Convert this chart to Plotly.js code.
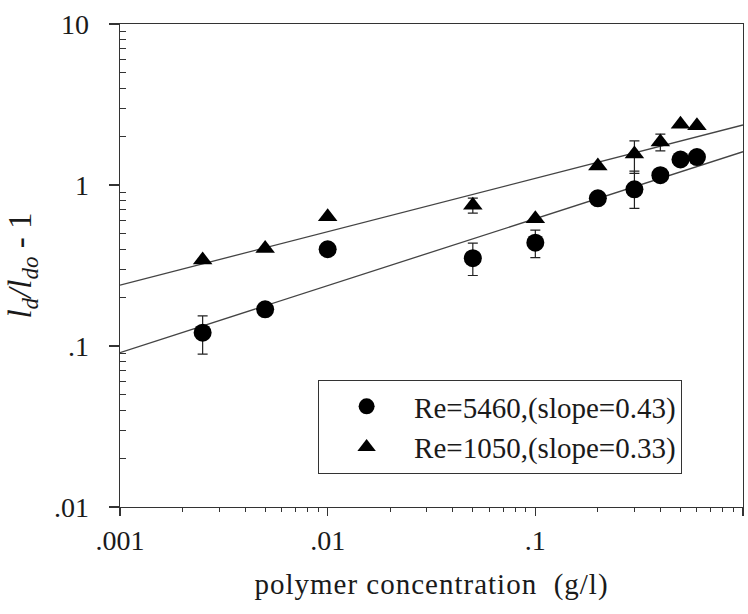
<!DOCTYPE html>
<html>
<head>
<meta charset="utf-8">
<script src="https://cdn.plot.ly/plotly-3.0.1.min.js"></script>
<style>
html,body{margin:0;padding:0;background:#fff;}
#chart .g-xtitle text{letter-spacing:1px;}
</style>
</head>
<body>
<div id="chart" style="width:748px;height:614px;"></div>
<script>
// Data
var concentration = [0.0025, 0.005, 0.01, 0.05, 0.1, 0.2, 0.3, 0.4, 0.5, 0.6];
var re5460 = [0.121, 0.169, 0.399, 0.351, 0.438, 0.826, 0.94, 1.15, 1.44, 1.49];
var re5460ErrPlus = [0.033, 0, 0, 0.084, 0.087, 0, 0.28, 0, 0, 0];
var re5460ErrMinus = [0.032, 0, 0, 0.077, 0.084, 0, 0.224, 0, 0, 0];
var re1050 = [0.342, 0.403, 0.634, 0.748, 0.617, 1.31, 1.56, 1.85, 2.38, 2.33];
var re1050ErrPlus = [0, 0, 0, 0.08, 0, 0, 0.32, 0.22, 0, 0];
var re1050ErrMinus = [0, 0, 0, 0.08, 0, 0, 0.38, 0.22, 0, 0];
var fitX = [0.001, 1];
var fit5460 = [0.091, 1.61];
var fit1050 = [0.239, 2.36];
var xTickVals = [0.001, 0.01, 0.1, 1];
var xTickText = ['.001', '.01', '.1', '1'];
var yTickVals = [0.01, 0.1, 1, 10];
var yTickText = ['.01', '.1', '1', '10'];
var seriesNames = ['Re=5460,(slope=0.43)', 'Re=1050,(slope=0.33)'];

function minorVals(lo, hi) {
  var v = [];
  for (var d = lo; d < hi; d *= 10) {
    for (var k = 2; k <= 9; k++) v.push(d * k);
  }
  return v;
}

var serif = 'Times New Roman, Liberation Serif, DejaVu Serif, serif';
var ink = '#1a1a1a';

var traces = [
  {x: fitX, y: fit1050, mode: 'lines', line: {color: '#444', width: 1.3}, showlegend: false, hoverinfo: 'skip'},
  {x: fitX, y: fit5460, mode: 'lines', line: {color: '#444', width: 1.3}, showlegend: false, hoverinfo: 'skip'},
  {
    x: concentration, y: re5460, mode: 'markers', name: seriesNames[0],
    marker: {symbol: 'circle', size: 18, color: '#000'},
    error_y: {type: 'data', symmetric: false, array: re5460ErrPlus, arrayminus: re5460ErrMinus,
              color: '#222', thickness: 1.2, width: 5}
  },
  {
    x: concentration, y: re1050, mode: 'markers', name: seriesNames[1],
    marker: {symbol: 'triangle-up', size: 17, color: '#000'},
    error_y: {type: 'data', symmetric: false, array: re1050ErrPlus, arrayminus: re1050ErrMinus,
              color: '#222', thickness: 1.2, width: 5}
  }
];

var layout = {
  width: 748, height: 614,
  margin: {l: 120, r: 5, t: 24, b: 107},
  paper_bgcolor: '#fff', plot_bgcolor: '#fff',
  font: {family: serif, color: ink},
  showlegend: true,
  legend: {
    x: 0.318, y: 0.263, xanchor: 'left', yanchor: 'top',
    bordercolor: '#333', borderwidth: 1, bgcolor: '#fff',
    font: {family: serif, size: 29, color: ink},
    itemwidth: 85, tracegroupgap: 0
  },
  xaxis: {
    type: 'log', range: [-3, 0],
    tickmode: 'array', tickvals: xTickVals, ticktext: xTickText,
    ticks: 'outside', ticklen: 8, tickwidth: 1.2, tickcolor: '#333',
    minor: {tickmode: 'array', tickvals: minorVals(0.001, 1), ticks: 'outside', ticklen: 4, tickwidth: 1, tickcolor: '#333', showgrid: false},
    showline: true, linecolor: '#333', linewidth: 1.3, mirror: true,
    showgrid: false, zeroline: false,
    tickfont: {family: serif, size: 28, color: ink},
    title: {text: 'polymer concentration  (g/l)', font: {family: serif, size: 29, color: ink}, standoff: 18}
  },
  yaxis: {
    type: 'log', range: [-2, 1],
    tickmode: 'array', tickvals: yTickVals, ticktext: yTickText,
    ticks: 'outside', ticklen: 10, tickwidth: 1.2, tickcolor: '#333',
    ticklabelstandoff: 14,
    minor: {tickmode: 'array', tickvals: minorVals(0.01, 10), ticks: 'inside', ticklen: 6, tickwidth: 1, tickcolor: '#333', showgrid: false},
    showline: true, linecolor: '#333', linewidth: 1.3, mirror: true,
    showgrid: false, zeroline: false,
    tickfont: {family: serif, size: 28, color: ink},
    title: {text: '<i>l<sub>d</sub>/l<sub>do</sub></i> - 1', font: {family: serif, size: 33, color: ink}, standoff: 12}
  }
};

Plotly.newPlot('chart', traces, layout, {displayModeBar: false, staticPlot: true});
</script>
</body>
</html>
